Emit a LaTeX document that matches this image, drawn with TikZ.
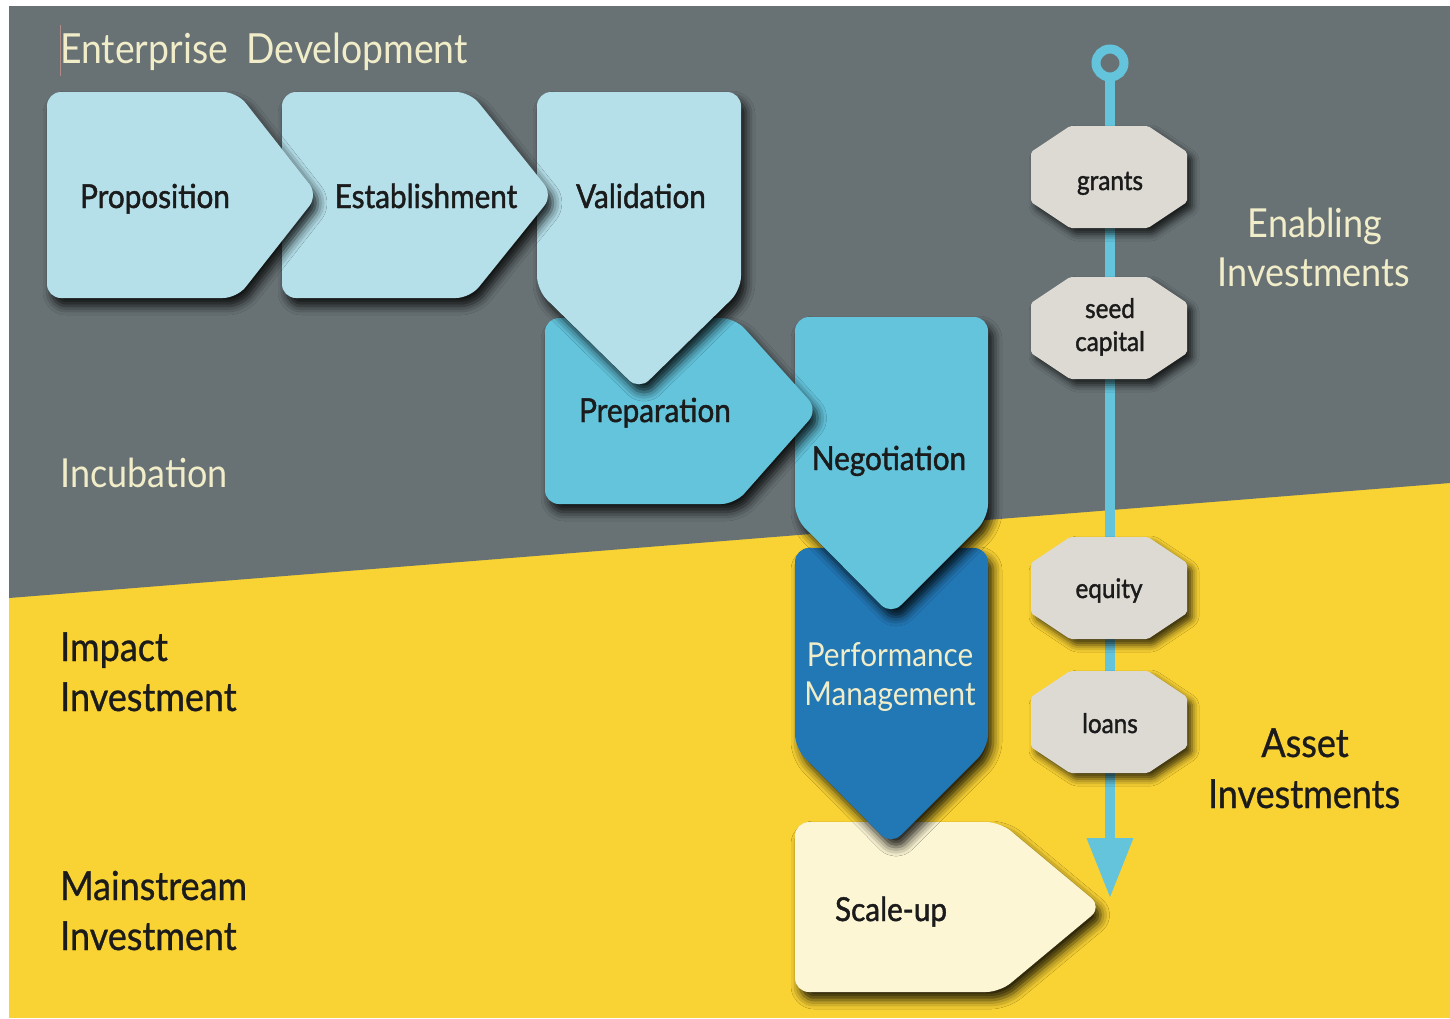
\documentclass[tikz,border=0pt]{standalone}
\usepackage{fontspec}
\setmainfont{Lato}[FakeStretch=0.9]
\newfontfamily\medfont{Lato}[FakeStretch=0.9,FakeBold=1.4]
\newfontfamily\semifont{Lato}[FakeStretch=0.9,FakeBold=0.8]
\usetikzlibrary{shadows.blur,arrows.meta}
\definecolor{bggray}{HTML}{687275}
\definecolor{bgyellow}{HTML}{F9D233}
\definecolor{lightblue}{HTML}{B5E0EA}
\definecolor{midblue}{HTML}{63C4DC}
\definecolor{darkblue}{HTML}{2277B5}
\definecolor{creamfill}{HTML}{FCF6D4}
\definecolor{octgray}{HTML}{DDDAD3}
\definecolor{labelcream}{HTML}{F1EDC9}
\definecolor{inkdark}{HTML}{1B1B1B}
\definecolor{cursorline}{HTML}{B08A86}
\newcommand\octbox[2]{%
  \path[octa] ({#1-78},{#2-25}) -- ({#1-39},{#2-51}) -- ({#1+39},{#2-51}) -- ({#1+78},{#2-25})
   -- ({#1+78},{#2+25}) -- ({#1+39},{#2+51}) -- ({#1-39},{#2+51}) -- ({#1-78},{#2+25}) -- cycle;}
\begin{document}
\begin{tikzpicture}[x=1pt,y=-1pt,
  stage/.style={rounded corners=14pt,blur shadow={shadow xshift=5pt,shadow yshift=-8pt,shadow blur radius=9pt,shadow opacity=85}},
  octa/.style={fill=octgray,rounded corners=2pt,blur shadow={shadow xshift=5pt,shadow yshift=-6pt,shadow blur radius=7pt,shadow opacity=75}},
  boxtext/.style={font=\medfont\fontsize{33}{36}\selectfont,text=inkdark,inner sep=0pt,anchor=base},
  octtext/.style={font=\medfont\fontsize{27}{30}\selectfont,text=inkdark,inner sep=0pt,anchor=base},
  lbl/.style={font=\fontsize{40}{44}\selectfont,inner sep=0pt,anchor=base west},
  lblc/.style={font=\fontsize{40}{44}\selectfont,inner sep=0pt,anchor=base},
]
\useasboundingbox (0,0) rectangle (1450,1018);
\fill[white] (0,0) rectangle (1450,1018);
\fill[bgyellow] (9,6) rectangle (1450,1018);
\fill[bggray] (9,6) -- (1450,6) -- (1450,483) -- (9,598) -- cycle;
\draw[cursorline,line width=1pt] (60,25) -- (60,76);

% stages, back to front
\path[stage,fill=creamfill] (795,822) -- (1000,822) -- (1102,907) -- (1000,992) -- (795,992) -- cycle;
\path[stage,fill=darkblue] (795,548) -- (988,548) -- (988,748) -- (891,845) -- (795,748) -- cycle;
\path[stage,fill=midblue] (795,317) -- (988,317) -- (988,518) -- (891,615) -- (795,518) -- cycle;
\path[stage,fill=midblue] (545,318) -- (735,318) -- (818,410) -- (735,504) -- (545,504) -- cycle;
\path[stage,fill=lightblue] (537,92) -- (741,92) -- (741,290) -- (639,390) -- (537,290) -- cycle;
\path[stage,fill=lightblue] (282,92) -- (470,92) -- (553,195) -- (470,298) -- (282,298) -- cycle;
\path[stage,fill=lightblue] (47,92) -- (237,92) -- (318,195) -- (237,298) -- (47,298) -- cycle;

% investment flow line
\coordinate (ringc) at (1110,63);
\coordinate (ringb) at (1110,76);
\coordinate (flowend) at (1110,898);
\draw[midblue,line width=9pt] (ringc) circle[radius=14];
\draw[midblue,line width=10pt,-{Triangle[length=60pt,width=44pt]}] (ringb) -- (flowend);

\octbox{1109}{177}
\octbox{1109}{328}
\octbox{1109}{588}
\octbox{1109}{722}

% stage labels
\node[boxtext] (prop) at (155,208) {Proposition};
\node[boxtext] (estab) at (426,208) {Establishment};
\node[boxtext] (valid) at (641,208) {Validation};
\node[boxtext] (prep) at (655,422) {Preparation};
\node[boxtext] (nego) at (889,470) {Negotiation};
\node[boxtext,text=labelcream,font=\fontsize{33}{36}\selectfont] (perf1) at (890,666) {Performance};
\node[boxtext,text=labelcream,font=\fontsize{33}{36}\selectfont] (perf2) at (890,705) {Management};
\node[boxtext] (scale) at (891,921) {Scale-up};

% investment labels
\node[octtext] (grants) at (1110,190) {grants};
\node[octtext] (seed1) at (1110,318) {seed};
\node[octtext] (seed2) at (1110,351) {capital};
\node[octtext] (equity) at (1109,598) {equity};
\node[octtext] (loans) at (1110,733) {loans};

% side labels
\node[lbl,text=labelcream,font=\fontsize{41.5}{44}\selectfont] (ent) at (60,63) {Enterprise\hspace{0.45em}Development};
\node[lbl,text=labelcream] (incub) at (60,487) {Incubation};
\node[lbl,text=inkdark,font=\semifont\fontsize{40}{44}\selectfont] (imp1) at (60,661) {Impact};
\node[lbl,text=inkdark,font=\semifont\fontsize{40}{44}\selectfont] (imp2) at (60,711) {Investment};
\node[lbl,text=inkdark,font=\semifont\fontsize{40}{44}\selectfont] (main1) at (60,900) {Mainstream};
\node[lbl,text=inkdark,font=\semifont\fontsize{40}{44}\selectfont] (main2) at (60,950) {Investment};
\node[lblc,text=labelcream] (en1) at (1315,237) {Enabling};
\node[lblc,text=labelcream] (en2) at (1314,286) {Investments};
\node[lblc,text=inkdark,font=\semifont\fontsize{40}{44}\selectfont] (as1) at (1305,757) {Asset};
\node[lblc,text=inkdark,font=\semifont\fontsize{40}{44}\selectfont] (as2) at (1304,808) {Investments};
\end{tikzpicture}
\end{document}
